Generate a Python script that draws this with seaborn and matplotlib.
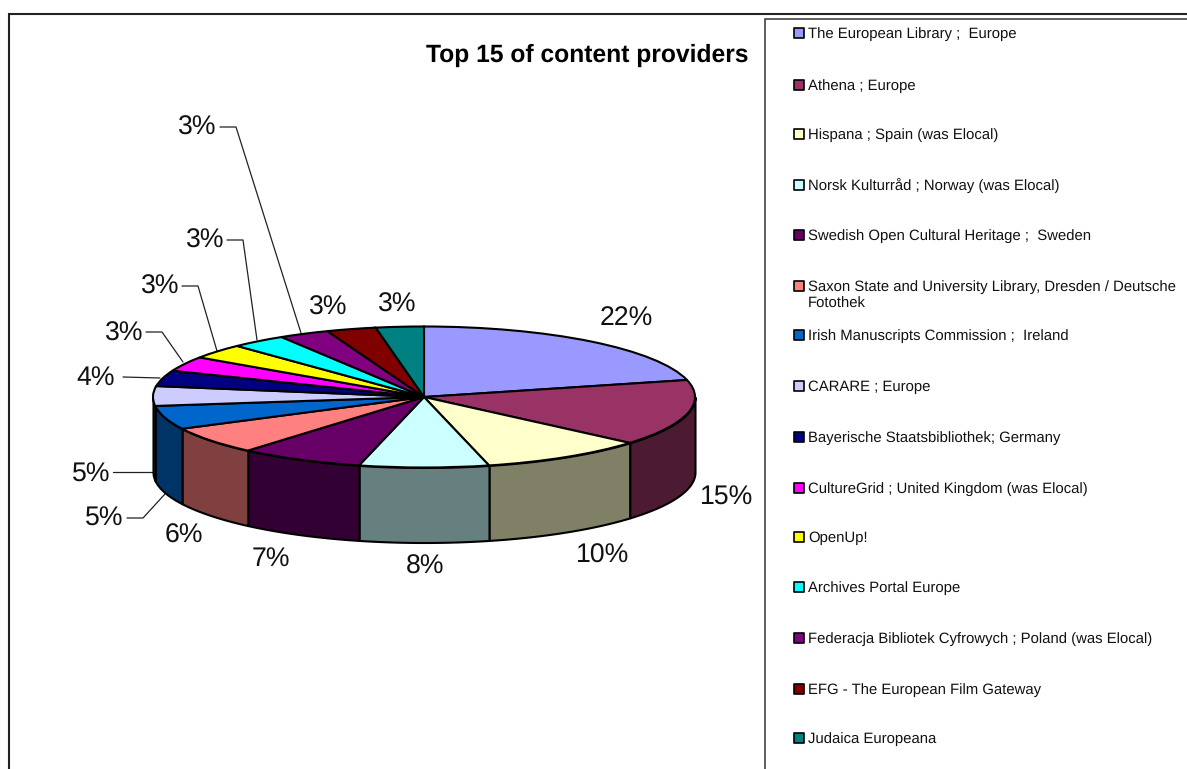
import numpy as np
import matplotlib
matplotlib.use("Agg")
import matplotlib.pyplot as plt
import seaborn as sns

sns.set_theme(style="white")
plt.rcParams['font.family'] = ['Liberation Sans', 'DejaVu Sans']
plt.rcParams['text.hinting'] = 'no_hinting'

# ============================================================
#  DATA
# ============================================================

providers = [
    "The European Library ;  Europe",
    "Athena ; Europe",
    "Hispana ; Spain (was Elocal)",
    "Norsk Kulturråd ; Norway (was Elocal)",
    "Swedish Open Cultural Heritage ;  Sweden",
    "Saxon State and University Library, Dresden / Deutsche\nFotothek",
    "Irish Manuscripts Commission ;  Ireland",
    "CARARE ; Europe",
    "Bayerische Staatsbibliothek; Germany",
    "CultureGrid ; United Kingdom (was Elocal)",
    "OpenUp!",
    "Archives Portal Europe",
    "Federacja Bibliotek Cyfrowych ; Poland (was Elocal)",
    "EFG - The European Film Gateway",
    "Judaica Europeana",
]
shares = [21.1, 15.15, 9.85, 7.7, 7.4, 6.3, 5.4, 4.5, 3.6, 3.4, 3.4, 3.3, 3.0, 2.95, 2.85]
pct_labels = ["22%", "15%", "10%", "8%", "7%", "6%", "5%", "5%", "4%", "3%", "3%", "3%", "3%", "3%", "3%"]
colors = ["#9999FF", "#993366", "#FFFFCC", "#CCFFFF", "#660066", "#FF8080", "#0066CC", "#CCCCFF",
          "#000080", "#FF00FF", "#FFFF00", "#00FFFF", "#800080", "#800000", "#008080"]

# ============================================================
#  LAYOUT (pixels)
# ============================================================

W, H = 1187, 769
CX, CY, RX, RY, DEPTH = 424, 397, 271, 70.5, 75

label_xy = [(626, 319), (727, 498), (603, 556), (425, 567), (271, 559), (184, 536), (104, 519), (91, 475),
            (96, 378), (124, 334), (160, 287), (205, 241), (197, 128), (328, 308), (397, 305)]
leaders = [
    [(127, 518), (143, 518), (165, 494)],
    [(113, 472), (153, 472)],
    [(123, 377), (160, 378)],
    [(146, 332), (162, 332), (183, 362)],
    [(182, 286), (198, 286), (217, 351)],
    [(227, 240), (243, 240), (257, 340)],
    [(220, 127), (236, 127), (301, 333)],
]
legend_y = [33, 85, 134, 185, 235, 286, 335, 386, 437, 488, 537, 587, 638, 689, 738]

fig = plt.figure(figsize=(W / 100, H / 100), dpi=100)

# pixel-coordinate overlay for frames, labels and legend
ax = fig.add_axes([0, 0, 1, 1])
ax.set_xlim(0, W)
ax.set_ylim(H, 0)
ax.axis("off")

# pie axes: unit circle stretched into the tilted ellipse
pie_ax = fig.add_axes([(CX - RX) / W, 1 - (CY + RY) / H, 2 * RX / W, 2 * RY / H])
pie_ax.patch.set_alpha(0)

palette = sns.color_palette(colors)

# ============================================================
#  SIDE WALLS
# ============================================================

edges = np.cumsum([0] + shares) / sum(shares) * 360
depth = DEPTH / RY
for i, col in enumerate(palette):
    lo, hi = max(edges[i], 90), min(edges[i + 1], 270)
    if hi <= lo:
        continue
    t = np.radians(np.linspace(lo, hi, 80))
    dark = tuple(c * 0.5 for c in col)
    pie_ax.fill_between(np.sin(t), np.cos(t), np.cos(t) - depth, facecolor=dark,
                        edgecolor="black", linewidth=1.5, clip_on=False, zorder=1)

# ============================================================
#  TOP FACE
# ============================================================

wedges, _ = pie_ax.pie(shares, colors=palette, startangle=90, counterclock=False, radius=1,
                       wedgeprops={"edgecolor": "black", "linewidth": 1.5, "clip_on": False, "zorder": 2})
pie_ax.set_aspect("auto")
pie_ax.set_xlim(-1, 1)
pie_ax.set_ylim(-1, 1)
pie_ax.axis("off")

# ============================================================
#  FRAMES, TITLE, LABELS
# ============================================================

ax.plot([9, 9, W], [H, 14, 14], color="#222222", lw=1.5, solid_joinstyle="miter")
ax.plot([765, 765, W], [H, 19, 19], color="#333333", lw=1.1, solid_joinstyle="miter")

ax.text(587, 55, "Top 15 of content providers", fontsize=17.7, fontweight="bold",
        ha="center", va="center", color="black")

for txt, (x, y) in zip(pct_labels, label_xy):
    ax.text(x, y, txt, fontsize=19.2, ha="center", va="center", color="#111111")

for pts in leaders:
    xs, ys = zip(*pts)
    ax.plot(xs, ys, color="#222222", lw=0.9)

# ============================================================
#  LEGEND
# ============================================================

for name, col, y in zip(providers, palette, legend_y):
    ax.scatter([799], [y], marker="s", s=50, facecolor=col, edgecolor="black", linewidth=1.2)
    for k, line in enumerate(name.split("\n")):
        ax.text(808, y + 5 + 17 * k, line, fontsize=10.75, ha="left", va="baseline", color="#111111")

fig.savefig("out.png", dpi=100)
